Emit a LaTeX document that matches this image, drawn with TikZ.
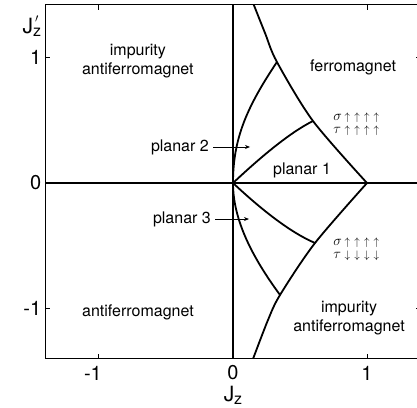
\documentclass[tikz,border=0pt]{standalone}
\usepackage{fontspec}
\setmainfont{TeX Gyre Heros}
\usetikzlibrary{arrows.meta}
\newcommand{\spinrow}[2]{\makebox[10pt][l]{\fontsize{14.4}{12}\selectfont$#1$}$\mkern2mu{#2}\mkern7mu{#2}\mkern7mu{#2}\mkern7mu{#2}$}
\newcommand{\Jzlabel}{J\raisebox{-0.3ex}{\fontsize{16}{16}\selectfont z}}
\newcommand{\Jzplabel}{J\rlap{\raisebox{1.0ex}{\fontsize{12}{12}\selectfont\,$\prime$}}\raisebox{-0.3ex}{\fontsize{16}{16}\selectfont z}}

\begin{document}
\begin{tikzpicture}[
        x=134pt, y=125.5pt,
        region/.style={align=center, font=\fontsize{16}{19}\selectfont, inner sep=0pt},
        spins/.style={align=left, font=\fontsize{10.95}{13}\selectfont, inner sep=0pt},
        ticklabel/.style={font=\fontsize{20}{20}\selectfont, inner sep=0pt},
        axislabel/.style={font=\fontsize{21}{21}\selectfont, inner sep=0pt},
        boundary/.style={line width=1.8pt},
        axis/.style={line width=1.2pt},
        frame/.style={line width=1pt},
        pointer/.style={line width=0.8pt, -{Stealth[length=5pt,width=4pt]}}
    ]
        \clip (-1.7388,-1.7849) rectangle (1.3731,1.4582);

        % Frame, axes and ticks
        \draw[frame] (-1.4,-1.4) rectangle (1.4,1.42);
        \draw[axis] (-1.4,0) -- (1.4,0);
        \draw[axis] (0,-1.4) -- (0,1.42);
        \foreach \t in {-1,1} {
            \draw[frame] (\t,1.42) -- ++(0,-0.04);
            \draw[frame] (\t,-1.4) -- ++(0,0.04);
            \draw[frame] (-1.4,\t) -- ++(0.037,0);
            \draw[frame] (1.4,\t) -- ++(-0.037,0);
        }

        % Phase boundaries
        \coordinate (O) at (0,0);
        \coordinate (F) at (1,0);
        \coordinate (A) at (0.597,0.494);
        \coordinate (B) at (0.328,0.964);
        \coordinate (C) at (0.612,-0.478);
        \coordinate (D) at (0.351,-0.892);
        \draw[boundary] plot[smooth] coordinates {(0.155,1.42) (0.239,1.195) (B) (A) (F)};
        \draw[boundary] plot[smooth] coordinates {(F) (C) (D) (0.261,-1.092) (0.15,-1.4)};
        \draw[boundary] (O) .. controls (0.2,0.2) and (0.42,0.40) .. (A);
        \draw[boundary] (O) .. controls (0,0.35) and (0.1,0.6) .. (B);
        \draw[boundary] (O) .. controls (0.2,-0.2) and (0.42,-0.39) .. (C);
        \draw[boundary] (O) .. controls (0,-0.3) and (0.15,-0.6) .. (D);

        % Nodes
        \node[region] (iafmtop) at (-0.71,0.97) {impurity\\antiferromagnet};
        \node[region] (ferro) at (0.896,0.924) {ferromagnet};
        \node[spins] (spinsup) at (0.92,0.47) {\spinrow{\sigma}{\uparrow}\\\spinrow{\tau}{\uparrow}};
        \node[region] (planarone) at (0.515,0.104) {planar 1};
        \node[region, anchor=east] (planartwo) at (-0.179,0.287) {planar 2};
        \node[region, anchor=east] (planarthree) at (-0.164,-0.287) {planar 3};
        \node[spins] (spinsdown) at (0.92,-0.526) {\spinrow{\sigma}{\uparrow}\\\spinrow{\tau}{\downarrow}};
        \node[region] (iafmbot) at (0.866,-1.08) {impurity\\antiferromagnet};
        \node[region] (afm) at (-0.709,-1.028) {antiferromagnet};

        % Axis labels
        \node[ticklabel, anchor=east] (ly1) at (-1.43,1) {1};
        \node[ticklabel, anchor=east] (ly0) at (-1.43,0) {0};
        \node[ticklabel, anchor=east] (lym) at (-1.43,-1) {-1};
        \node[ticklabel] (lxm) at (-1.045,-1.514) {-1};
        \node[ticklabel] (lx0) at (0,-1.514) {0};
        \node[ticklabel] (lx1) at (1,-1.514) {1};
        \node[axislabel] (jzp) at (-1.5,1.25) {\Jzplabel};
        \node[axislabel] (jz) at (0,-1.69) {\Jzlabel};

        % Connectors
        \coordinate (twotip) at (0.127,0.287);
        \coordinate (threetip) at (0.119,-0.287);
        \draw[pointer] ([xshift=4pt]planartwo.east) -- (twotip);
        \draw[pointer] ([xshift=4pt]planarthree.east) -- (threetip);
    \end{tikzpicture}
\end{document}
